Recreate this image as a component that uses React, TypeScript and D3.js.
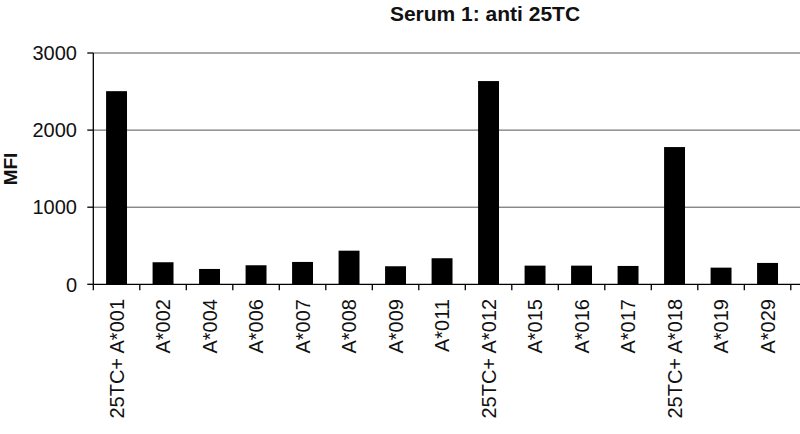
import React from "react";
import * as d3 from "d3";

const categories = [
  "25TC+ A*001", "A*002", "A*004", "A*006", "A*007", "A*008", "A*009", "A*011",
  "25TC+ A*012", "A*015", "A*016", "A*017", "25TC+ A*018", "A*019", "A*029",
];
const mfiValues = [2505, 286, 199, 247, 290, 436, 234, 338, 2636, 242, 242, 238, 1780, 216, 277];
const yTicks = [0, 1000, 2000, 3000];
const title = "Serum 1: anti 25TC";
const yLabel = "MFI";

const W = 800;
const H = 434;
const font = "Liberation Sans, Arial, Helvetica, sans-serif";

export default function App() {
  const x = d3
    .scaleBand<string>()
    .domain(categories)
    .range([93.3, 790.8])
    .paddingInner(0.55)
    .paddingOuter(0.275);
  const y = d3.scaleLinear().domain([0, 3000]).range([284.3, 53]);
  const step = x.step();
  const x0 = 93.3;

  return (
    <svg
      width={W}
      height={H}
      style={{ position: "absolute", left: 0, top: 0, background: "#fff" }}
      fontFamily={font}
    >
      <rect x={0} y={0} width={W} height={H} fill="#fff" />
      <text x={485} y={21} textAnchor="middle" fontSize={21} fontWeight="bold" fill="#111">
        {title}
      </text>
      {/* gridlines */}
      {yTicks
        .filter((t) => t > 0)
        .map((t) => (
          <line key={t} x1={x0} x2={800} y1={y(t)} y2={y(t)} stroke="#555" strokeWidth={1} />
        ))}
      {/* bars */}
      {categories.map((c, i) => (
        <rect
          key={c}
          x={x(c)!}
          y={y(mfiValues[i])}
          width={x.bandwidth()}
          height={y(0) - y(mfiValues[i])}
          fill="#000"
        />
      ))}
      {/* y axis */}
      <line x1={x0} x2={x0} y1={y(3000)} y2={y(0)} stroke="#000" strokeWidth={1.3} />
      {yTicks.map((t) => (
        <g key={t}>
          <line x1={x0 - 6} x2={x0} y1={y(t)} y2={y(t)} stroke="#000" strokeWidth={1.3} />
          <text x={77} y={y(t)} dy="0.36em" textAnchor="end" fontSize={20} fill="#111">
            {t}
          </text>
        </g>
      ))}
      {/* x axis */}
      <line x1={x0} x2={800} y1={y(0)} y2={y(0)} stroke="#000" strokeWidth={1.3} />
      {d3.range(categories.length + 1).map((i) => (
        <line
          key={i}
          x1={x0 + i * step}
          x2={x0 + i * step}
          y1={y(0)}
          y2={y(0) + 6}
          stroke="#000"
          strokeWidth={1.3}
        />
      ))}
      {categories.map((c) => (
        <text
          key={c}
          transform={`translate(${x(c)! + x.bandwidth() / 2},299) rotate(-90)`}
          dy="0.35em"
          textAnchor="end"
          fontSize={20}
          fill="#111"
        >
          {c}
        </text>
      ))}
      <text
        transform="translate(17.3,169) rotate(-90)"
        textAnchor="middle"
        fontSize={19}
        fontWeight="bold"
        fill="#111"
      >
        {yLabel}
      </text>
    </svg>
  );
}
